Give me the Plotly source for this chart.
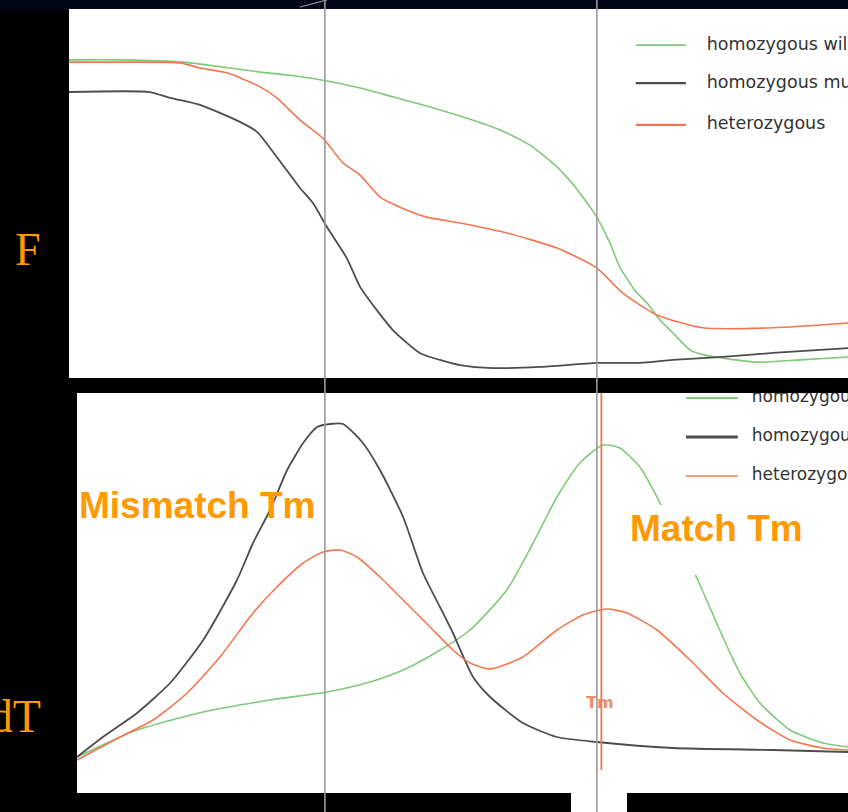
import plotly.graph_objects as go

# ---------------- Melting curves: fluorescence F vs temperature ----------------
temp_wt_F = [64.50, 65.99, 67.84, 69.22, 70.10, 70.89, 72.06, 73.03, 73.99, 74.99,
             75.96, 76.84, 77.33, 78.01, 78.80, 79.33, 79.97, 80.35, 80.64, 81.08,
             81.44, 81.82, 82.20, 82.70, 83.14, 83.66, 84.66, 85.92, 87.33]
F_wt = [86.2, 86.2, 85.6, 84.0, 82.9, 82.1, 80.5, 78.6, 76.2, 73.7,
        71.0, 68.3, 66.4, 63.1, 57.2, 51.8, 43.6, 36.6, 30.1, 23.8,
        20.3, 15.7, 12.2, 7.6, 6.2, 5.4, 4.3, 4.9, 5.7]

temp_mut_F = [64.50, 66.87, 67.46, 68.34, 69.51, 70.01, 70.59, 71.27, 71.65, 72.06,
              72.64, 73.03, 73.52, 73.99, 74.78, 75.37, 75.96, 76.92, 78.30, 79.97,
              81.23, 82.20, 83.66, 85.13, 87.33]
F_mut = [77.5, 77.5, 75.9, 74.0, 69.4, 66.7, 59.9, 51.5, 47.4, 40.9,
         32.5, 24.7, 18.4, 13.0, 6.8, 4.9, 3.5, 2.7, 3.0, 4.1,
         4.1, 4.9, 5.7, 6.8, 8.1]

temp_het_F = [64.50, 65.99, 67.75, 68.34, 69.13, 70.10, 70.59, 71.27, 71.94, 72.53,
              73.03, 73.61, 74.20, 74.99, 75.96, 77.33, 78.80, 79.97, 80.73, 81.73,
              83.08, 85.13, 87.33]
F_het = [85.6, 85.6, 85.4, 84.0, 82.7, 78.9, 75.9, 69.9, 65.0, 58.3,
         55.0, 49.1, 46.3, 43.6, 42.0, 39.3, 35.2, 29.8, 23.0, 17.1,
         13.6, 13.6, 14.9]

# ---------------- Derivative curves: -dF/dT vs temperature ----------------
temp_wt_D = [64.73, 66.49, 68.43, 70.39, 72.06, 73.32, 74.29, 75.28, 76.25, 77.33,
             78.10, 78.80, 79.47, 80.15, 80.64, 81.23, 81.88, 82.40, 82.90, 83.66,
             84.16, 84.75, 85.63, 86.59, 87.33]
D_wt = [9.0, 15.75, 20.25, 23.25, 25.25, 27.75, 30.75, 35.25, 40.75, 50.75,
        62.5, 74.0, 82.5, 87.0, 86.25, 81.5, 71.5, 62.0, 53.75, 39.0,
        30.0, 22.5, 15.75, 12.5, 11.5]

temp_mut_D = [64.73, 65.49, 66.49, 67.46, 68.43, 69.42, 69.89, 70.39, 70.89, 71.36,
              71.77, 72.15, 72.53, 73.11, 73.61, 74.29, 74.87, 75.46, 75.75, 76.34,
              76.84, 77.80, 78.80, 79.97, 82.20, 85.13, 87.33]
D_mut = [9.0, 14.0, 20.0, 27.5, 38.25, 53.25, 62.5, 70.75, 80.75, 87.5,
         91.5, 92.25, 92.25, 87.5, 80.75, 69.0, 55.0, 45.0, 40.0, 29.0,
         24.0, 17.5, 14.0, 12.75, 11.25, 10.75, 10.25]

temp_het_D = [64.73, 65.99, 66.96, 67.96, 68.92, 69.89, 70.59, 71.36, 71.94, 72.44,
              72.94, 73.61, 74.29, 75.08, 75.75, 76.25, 76.84, 77.80, 78.80, 79.56,
              80.26, 80.85, 81.73, 82.70, 83.66, 84.66, 85.63, 86.59, 87.33]
D_het = [8.25, 14.0, 18.25, 25.0, 34.0, 45.0, 51.5, 57.5, 60.25, 60.75,
         59.0, 54.0, 48.25, 41.5, 35.75, 32.5, 31.0, 34.0, 40.75, 44.5,
         46.0, 45.0, 40.75, 33.25, 25.0, 18.25, 13.25, 11.25, 10.75]

series_names = ["homozygous wild type", "homozygous mutant", "heterozygous"]
mismatch_tm = 72.0
match_tm = 79.97
tm_marker = 80.1

GREEN = "#7fc97a"
GREY = "#4d4d4d"
ORANGE = "#f2774f"
LABEL = "#ff9900"

fig = go.Figure()

line_style = dict(shape="spline", smoothing=0.6)
top = [(temp_wt_F, F_wt, GREEN, 1.6), (temp_mut_F, F_mut, GREY, 1.8), (temp_het_F, F_het, ORANGE, 1.6)]
bot = [(temp_wt_D, D_wt, GREEN, 1.6), (temp_mut_D, D_mut, GREY, 1.8), (temp_het_D, D_het, ORANGE, 1.6)]
for (x, y, c, w), name in zip(top, series_names):
    fig.add_trace(go.Scatter(x=x, y=y, mode="lines", name=name, showlegend=False,
                             line=dict(color=c, width=w, **line_style), xaxis="x", yaxis="y"))
for (x, y, c, w), name in zip(bot, series_names):
    fig.add_trace(go.Scatter(x=x, y=y, mode="lines", name=name, showlegend=False,
                             line=dict(color=c, width=w, **line_style), xaxis="x2", yaxis="y2"))

# legend keys drawn inside each panel (clipped by the panel edges)
legend_cols = [GREEN, GREY, ORANGE]
leg_top = dict(x0=81.11, x1=82.58, xt=83.19, ys=[90.2, 79.9, 68.6], ax="x", ay="y",
               w=[1.6, 2.2, 2.2], size=17.5)
leg_bot = dict(x0=82.58, x1=84.10, xt=84.51, ys=[98.75, 89.0, 79.25], ax="x2", ay="y2",
               w=[2.2, 3.0, 1.6], size=17)
for leg in (leg_top, leg_bot):
    for name, c, yv, w in zip(series_names, legend_cols, leg["ys"], leg["w"]):
        fig.add_trace(go.Scatter(x=[leg["x0"], leg["x1"]], y=[yv, yv], mode="lines",
                                 line=dict(color=c, width=w), showlegend=False,
                                 xaxis=leg["ax"], yaxis=leg["ay"], hoverinfo="skip"))
        fig.add_trace(go.Scatter(x=[leg["xt"]], y=[yv], mode="text", text=[name],
                                 textposition="middle right", cliponaxis=True,
                                 textfont=dict(family="DejaVu Sans", size=leg["size"], color="#333333"),
                                 showlegend=False, xaxis=leg["ax"], yaxis=leg["ay"], hoverinfo="skip"))

# small Tm tag next to the marker line
fig.add_trace(go.Scatter(x=[80.06], y=[22.25], mode="text", text=["<b>Tm</b>"],
                         textfont=dict(family="DejaVu Sans", size=16, color="#f08a6a"),
                         showlegend=False, xaxis="x2", yaxis="y2", hoverinfo="skip"))

shapes = []
# dark bands of the slide background
shapes.append(dict(type="rect", xref="paper", yref="paper", x0=0, x1=1, y0=1 - 9 / 812, y1=1,
                   fillcolor="#030617", line=dict(width=0), layer="above"))
shapes.append(dict(type="rect", xref="paper", yref="paper", x0=0, x1=1, y0=1 - 393 / 812, y1=1 - 378 / 812,
                   fillcolor="#000000", line=dict(width=0), layer="above"))
shapes.append(dict(type="line", xref="paper", yref="paper", x0=300 / 848, x1=327 / 848,
                   y0=1 - 7 / 812, y1=1, line=dict(color="#9a9a9a", width=1.2), layer="above"))
# white strip below the derivative panel
shapes.append(dict(type="rect", xref="paper", yref="paper", x0=571 / 848, x1=627 / 848, y0=0, y1=0.03,
                   fillcolor="white", line=dict(width=0), layer="below"))
# white box behind the "Match Tm" label
shapes.append(dict(type="rect", xref="x2", yref="y2", x0=80.79, x1=86.27, y0=54.5, y1=72.0,
                   fillcolor="white", line=dict(width=0), layer="above"))
# Tm marker in the derivative panel
shapes.append(dict(type="line", xref="x2", yref="y2", x0=tm_marker, x1=tm_marker, y0=5.75, y1=100,
                   line=dict(color="#f2774f", width=1.8), layer="above"))
# Tm guide lines through both panels
for t in (mismatch_tm, match_tm):
    shapes.append(dict(type="line", xref="x", yref="paper", x0=t, x1=t, y0=0, y1=1,
                       line=dict(color="#9a9a9a", width=1.6), layer="above"))

annotations = [
    dict(text="<b>Mismatch Tm</b>", x=197 / 848, y=1 - 506 / 812, xref="paper", yref="paper",
         showarrow=False, xanchor="center", yanchor="middle",
         font=dict(family="Liberation Sans", size=37, color=LABEL)),
    dict(text="<b>Match Tm</b>", x=716 / 848, y=1 - 528 / 812, xref="paper", yref="paper",
         showarrow=False, xanchor="center", yanchor="middle",
         font=dict(family="Liberation Sans", size=37, color=LABEL)),
    dict(text="F", x=28 / 848, y=1 - 249 / 812, xref="paper", yref="paper",
         showarrow=False, xanchor="center", yanchor="middle",
         font=dict(family="Liberation Serif", size=46, color=LABEL)),
    dict(text="-dF/dT", x=43 / 848, y=1 - 716 / 812, xref="paper", yref="paper",
         showarrow=False, xanchor="right", yanchor="middle",
         font=dict(family="Liberation Serif", size=46, color=LABEL)),
]

axis_common = dict(showgrid=False, zeroline=False, showticklabels=False, ticks="",
                   showline=False, fixedrange=True)
fig.update_layout(
    width=848, height=812,
    margin=dict(l=0, r=0, t=0, b=0),
    paper_bgcolor="black", plot_bgcolor="white",
    xaxis=dict(domain=[69 / 848, 1], range=[64.50, 87.33], anchor="y", **axis_common),
    yaxis=dict(domain=[1 - 378 / 812, 1 - 9 / 812], range=[0, 100], anchor="x", **axis_common),
    xaxis2=dict(domain=[77 / 848, 1], range=[64.73, 87.33], anchor="y2", **axis_common),
    yaxis2=dict(domain=[1 - 793 / 812, 1 - 393 / 812], range=[0, 100], anchor="x2", **axis_common),
    shapes=shapes, annotations=annotations,
    showlegend=False, hovermode=False,
)

fig.write_html("out.html")
